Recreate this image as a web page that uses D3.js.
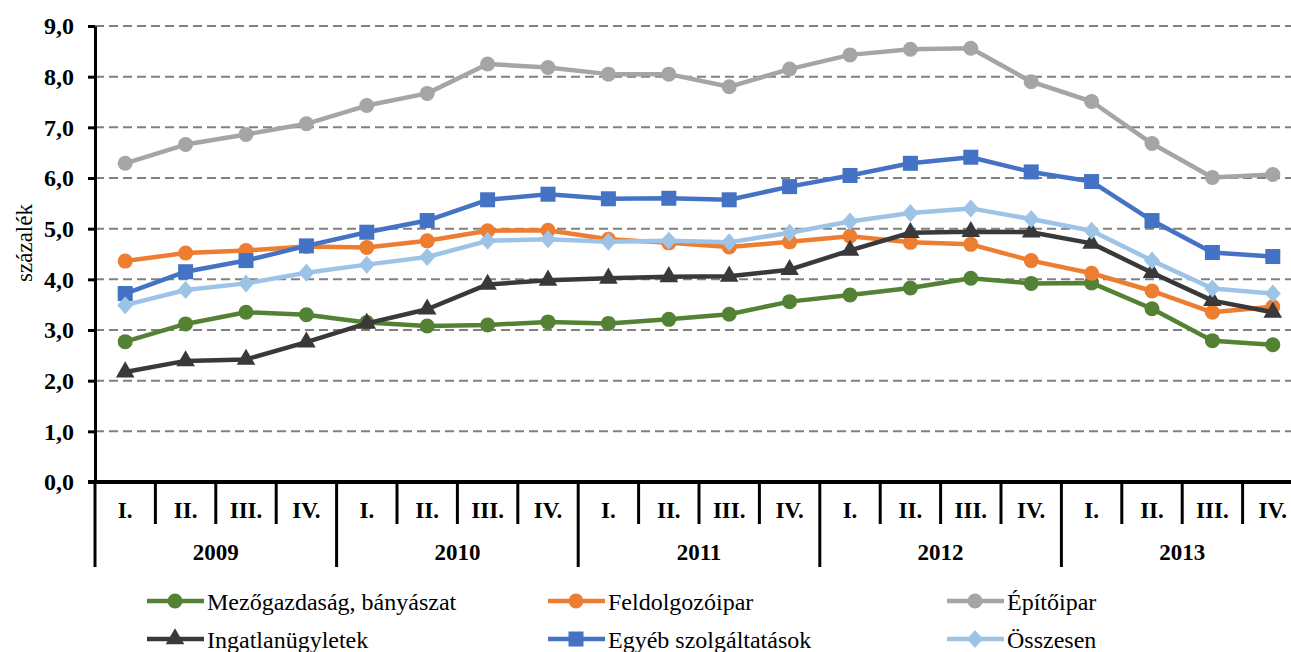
<!DOCTYPE html>
<html>
<head>
<meta charset="utf-8">
<script src="https://cdn.jsdelivr.net/npm/d3@7"></script>
<style>
  body { margin: 0; background: #fff; }
  svg { display: block; font-family: "Liberation Serif", "Times New Roman", serif; }
</style>
</head>
<body>
<div id="chart"></div>
<script>
var years = ["2009", "2010", "2011", "2012", "2013"];
var quarters = ["I.", "II.", "III.", "IV."];
var yTicks = [0, 1, 2, 3, 4, 5, 6, 7, 8, 9];

var mezogazdasag = [2.77, 3.12, 3.35, 3.30, 3.15, 3.08, 3.10, 3.16, 3.13, 3.21, 3.31, 3.56, 3.69, 3.83, 4.02, 3.92, 3.93, 3.42, 2.79, 2.71];
var feldolgozoipar = [4.36, 4.52, 4.57, 4.65, 4.63, 4.76, 4.96, 4.97, 4.79, 4.72, 4.64, 4.74, 4.85, 4.73, 4.69, 4.37, 4.12, 3.77, 3.35, 3.46];
var epitoipar = [6.29, 6.66, 6.86, 7.07, 7.43, 7.67, 8.25, 8.18, 8.05, 8.05, 7.80, 8.15, 8.43, 8.54, 8.56, 7.90, 7.51, 6.68, 6.01, 6.07];
var ingatlan = [2.17, 2.39, 2.42, 2.76, 3.13, 3.41, 3.90, 3.98, 4.02, 4.05, 4.06, 4.19, 4.57, 4.92, 4.94, 4.93, 4.71, 4.13, 3.58, 3.35];
var egyeb = [3.72, 4.15, 4.37, 4.66, 4.93, 5.16, 5.57, 5.68, 5.59, 5.60, 5.57, 5.83, 6.05, 6.29, 6.41, 6.12, 5.93, 5.16, 4.53, 4.45];
var osszesen = [3.49, 3.79, 3.92, 4.13, 4.29, 4.44, 4.76, 4.79, 4.74, 4.76, 4.73, 4.92, 5.14, 5.31, 5.40, 5.19, 4.96, 4.37, 3.82, 3.72];

var series = [
  { name: "Mezőgazdaság, bányászat", values: mezogazdasag, color: "#548235", marker: "circle" },
  { name: "Feldolgozóipar", values: feldolgozoipar, color: "#ED7D31", marker: "circle" },
  { name: "Építőipar", values: epitoipar, color: "#A5A5A5", marker: "circle" },
  { name: "Ingatlanügyletek", values: ingatlan, color: "#393939", marker: "triangle" },
  { name: "Egyéb szolgáltatások", values: egyeb, color: "#4472C4", marker: "square" },
  { name: "Összesen", values: osszesen, color: "#9DC3E6", marker: "diamond" }
];

var W = 1291, H = 652;
var plotLeft = 95, plotTop = 26, plotBottom = 482;

var cats = [];
years.forEach(function (yr) { quarters.forEach(function (q) { cats.push(yr + q); }); });

var x = d3.scaleBand().domain(cats).range([plotLeft, plotLeft + 20 * 60.4]);
var yearX = d3.scaleBand().domain(years).range([plotLeft, plotLeft + 20 * 60.4]);
var y = d3.scaleLinear().domain([0, 9]).range([plotBottom, plotTop]);

var svg = d3.select("#chart").append("svg")
  .attr("width", W).attr("height", H);

// grid
svg.append("g").selectAll("line")
  .data(yTicks.filter(function (d) { return d > 0; }))
  .enter().append("line")
  .attr("x1", plotLeft).attr("x2", W)
  .attr("y1", function (d) { return y(d); })
  .attr("y2", function (d) { return y(d); })
  .attr("stroke", "#808080").attr("stroke-width", 2)
  .attr("stroke-dasharray", "9,5");

// y axis
var yAxis = d3.axisLeft(y).tickValues(yTicks).tickSize(7).tickSizeOuter(0).tickPadding(14)
  .tickFormat(function (d) { return d3.format(".1f")(d).replace(".", ","); });
var gy = svg.append("g").attr("transform", "translate(" + plotLeft + ",0)").call(yAxis);
gy.attr("font-family", null);
gy.select(".domain").attr("stroke", "#000").attr("stroke-width", 3);
gy.selectAll(".tick line").attr("stroke", "#000").attr("stroke-width", 3);
gy.selectAll(".tick text").attr("font-size", 24).attr("font-weight", "bold").attr("fill", "#000");

svg.append("text")
  .attr("transform", "translate(32,243) rotate(-90)")
  .attr("text-anchor", "middle")
  .attr("font-size", 23)
  .text("százalék");

// x axis
svg.append("line").attr("x1", plotLeft - 7).attr("x2", W)
  .attr("y1", plotBottom).attr("y2", plotBottom)
  .attr("stroke", "#000").attr("stroke-width", 4);

svg.append("g").selectAll("line")
  .data(cats)
  .enter().append("line")
  .attr("x1", function (d) { return x(d); })
  .attr("x2", function (d) { return x(d); })
  .attr("y1", plotBottom)
  .attr("y2", function (d, i) { return i % 4 === 0 ? 567 : 524; })
  .attr("stroke", "#000").attr("stroke-width", 3);

svg.append("g").selectAll("text")
  .data(cats)
  .enter().append("text")
  .attr("x", function (d) { return x(d) + x.bandwidth() / 2; })
  .attr("y", 518)
  .attr("text-anchor", "middle")
  .attr("font-size", 23).attr("font-weight", "bold")
  .text(function (d, i) { return quarters[i % 4]; });

svg.append("g").selectAll("text")
  .data(years)
  .enter().append("text")
  .attr("x", function (d) { return yearX(d) + yearX.bandwidth() / 2; })
  .attr("y", 560)
  .attr("text-anchor", "middle")
  .attr("font-size", 23).attr("font-weight", "bold")
  .text(function (d) { return d; });

// markers
function drawMarker(g, type, color, cx, cy) {
  if (type === "circle") {
    g.append("circle").attr("cx", cx).attr("cy", cy).attr("r", 7.5).attr("fill", color);
  } else if (type === "square") {
    g.append("rect").attr("x", cx - 7.5).attr("y", cy - 7.5).attr("width", 15).attr("height", 15).attr("fill", color);
  } else if (type === "triangle") {
    g.append("path").attr("d", d3.symbol().type(d3.symbolTriangle).size(150)())
      .attr("transform", "translate(" + cx + "," + cy + ")").attr("fill", color);
  } else {
    g.append("path").attr("d", "M0,-9L8,0L0,9L-8,0Z")
      .attr("transform", "translate(" + cx + "," + cy + ")").attr("fill", color);
  }
}

var line = d3.line()
  .x(function (d, i) { return x(cats[i]) + x.bandwidth() / 2; })
  .y(function (d) { return y(d); });

series.forEach(function (s) {
  var g = svg.append("g");
  g.append("path").attr("d", line(s.values))
    .attr("fill", "none").attr("stroke", s.color).attr("stroke-width", 4.5)
    .attr("stroke-linejoin", "round");
  s.values.forEach(function (v, i) {
    drawMarker(g, s.marker, s.color, x(cats[i]) + x.bandwidth() / 2, y(v));
  });
});

// legend
var legX = [147, 548, 947], legY = [601, 639];
series.forEach(function (s, i) {
  var lx = legX[i % 3], ly = legY[Math.floor(i / 3)];
  var g = svg.append("g");
  g.append("line").attr("x1", lx).attr("x2", lx + 57).attr("y1", ly).attr("y2", ly)
    .attr("stroke", s.color).attr("stroke-width", 4.5);
  drawMarker(g, s.marker, s.color, lx + 28, ly);
  g.append("text").attr("x", lx + 60).attr("y", ly + 9)
    .attr("font-size", 24).text(s.name);
});
</script>
</body>
</html>
